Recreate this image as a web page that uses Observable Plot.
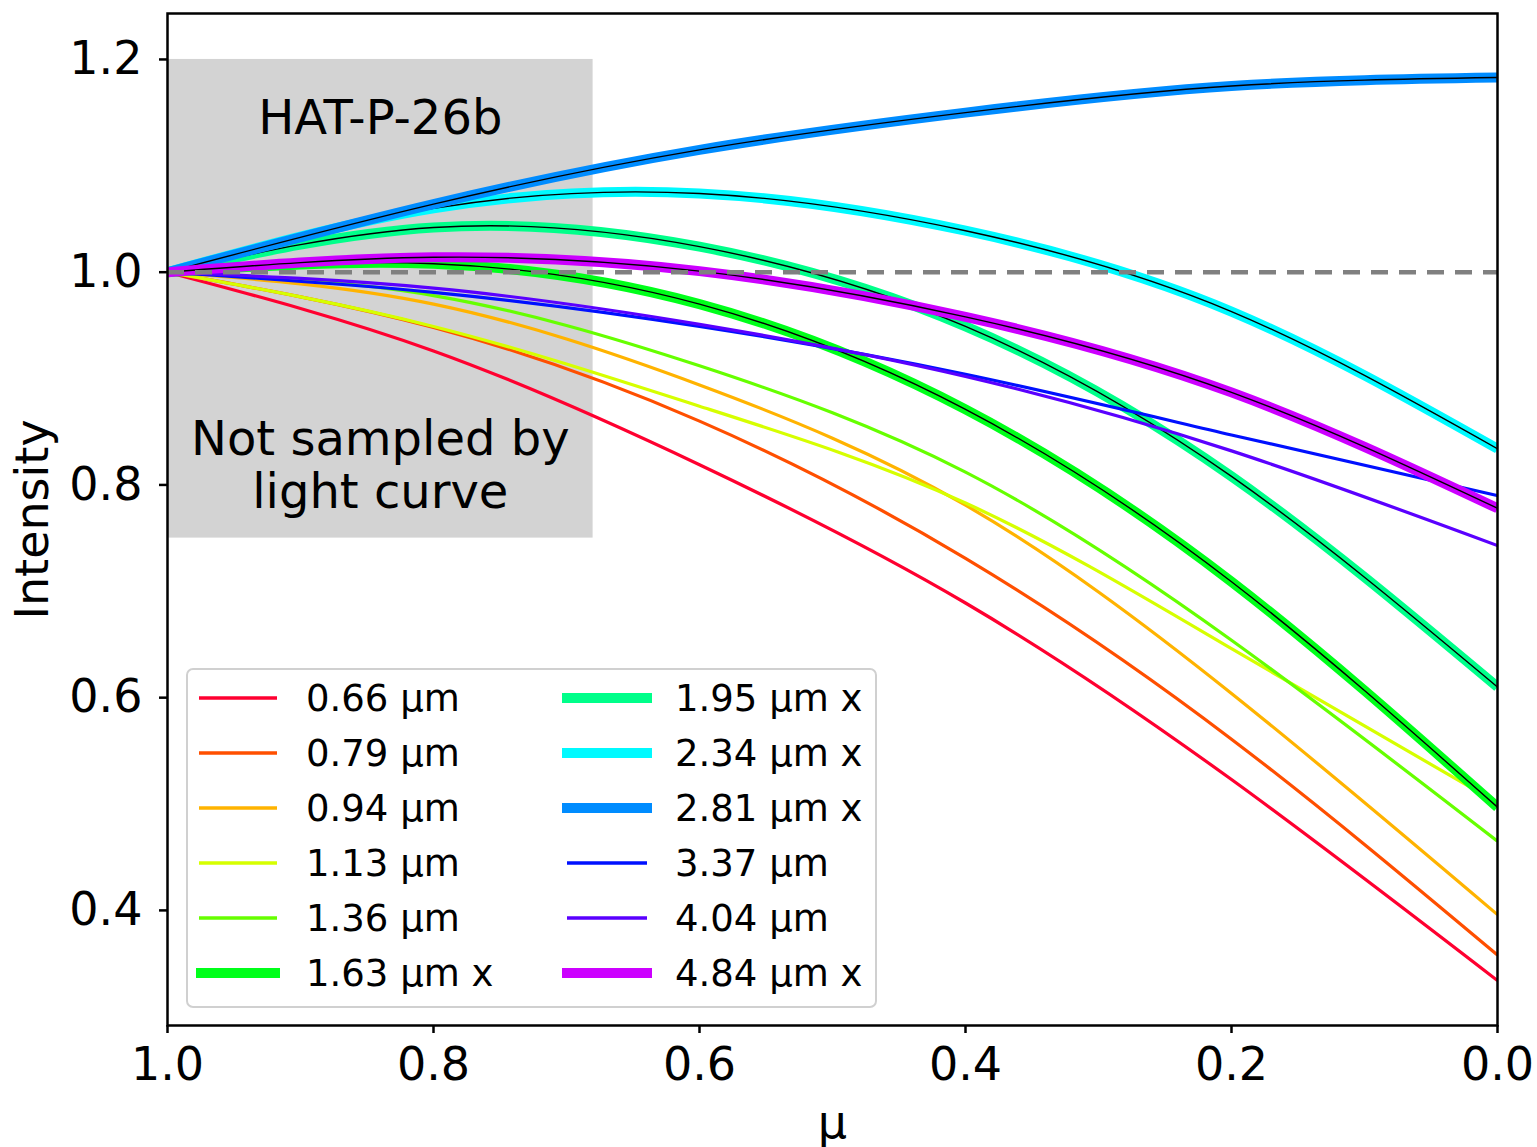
<!DOCTYPE html>
<html>
<head>
<meta charset="utf-8">
<script src="https://cdn.jsdelivr.net/npm/d3@7"></script>
<script src="https://cdn.jsdelivr.net/npm/@observablehq/plot@0.6"></script>
<style>
  html, body { margin: 0; padding: 0; background: #fff; }
  #wrap { position: relative; width: 1537px; height: 1147px; font-family: "DejaVu Sans", sans-serif; }
  #legend { position: absolute; box-sizing: border-box; border: 2px solid #d0d0d0; border-radius: 7px; background: rgba(255,255,255,0.85); }
</style>
</head>
<body>
<div id="wrap"></div>
<script>
// ---- data ----
const mu = [1.0, 0.8, 0.6, 0.4, 0.2, 0.0];

const wavelengths = ["0.66", "0.79", "0.94", "1.13", "1.36", "1.63", "1.95", "2.34", "2.81", "3.37", "4.04", "4.84"];
const fitted      = [false,  false,  false,  false,  false,  true,   true,   true,   true,   false,  false,  true];
const colors      = ["#ff0030", "#ff4f00", "#ffb300", "#d6ff00", "#66ff00", "#00ff1a",
                     "#00ff8a", "#00faff", "#008cff", "#0010ff", "#5a00ff", "#cc00ff"];

const I_066 = [1.0, 0.926, 0.819, 0.689, 0.523, 0.334];
const I_079 = [1.0, 0.948, 0.860, 0.731, 0.561, 0.358];
const I_094 = [1.0, 0.970, 0.894, 0.781, 0.604, 0.396];
const I_113 = [1.0, 0.949, 0.874, 0.783, 0.646, 0.501];
const I_136 = [1.0, 0.978, 0.912, 0.812, 0.654, 0.465];
const I_163 = [1.0, 1.008, 0.970, 0.871, 0.709, 0.497];
const I_195 = [1.0, 1.042, 1.024, 0.949, 0.808, 0.610];
const I_234 = [1.0, 1.060, 1.074, 1.039, 0.963, 0.834];
const I_281 = [1.0, 1.064, 1.115, 1.150, 1.175, 1.183];
const I_337 = [1.0, 0.981, 0.949, 0.904, 0.847, 0.790];
const I_404 = [1.0, 0.985, 0.951, 0.902, 0.832, 0.743];
const I_484 = [1.0, 1.014, 1.001, 0.958, 0.887, 0.778];

const intensities = [I_066, I_079, I_094, I_113, I_136, I_163, I_195, I_234, I_281, I_337, I_404, I_484];

// shaded region and annotations
const boxMu = [1.0, 0.68];
const boxI = [0.75, 1.2];
const titleText = "HAT-P-26b";
const titlePos = [0.84, 1.144];
const noteText = "Not sampled by\nlight curve";
const notePos = [0.84, 0.819];

const xTicks = [1.0, 0.8, 0.6, 0.4, 0.2, 0.0];
const yTicks = [0.4, 0.6, 0.8, 1.0, 1.2];

// ---- build ----
const labels = wavelengths.map((w, k) => `${w} μm${fitted[k] ? " x" : ""}`);
const series = wavelengths.map((w, k) => ({
  key: w, color: colors[k], thick: fitted[k],
  rows: mu.map((m, i) => ({mu: m, I: intensities[k][i]}))
}));

const marks = [
  Plot.rect([{}], {x1: boxMu[0], x2: boxMu[1], y1: boxI[0], y2: boxI[1], fill: "#d3d3d3"}),
  Plot.text([titleText], {x: titlePos[0], y: titlePos[1], text: d => d, fontSize: 48, fill: "black", textAnchor: "middle", lineAnchor: "middle"}),
  Plot.text([noteText], {x: notePos[0], y: notePos[1], text: d => d, fontSize: 48, fill: "black", textAnchor: "middle", lineAnchor: "middle", lineHeight: 1.1})
];

for (const s of series) {
  marks.push(Plot.line(s.rows, {x: "mu", y: "I", stroke: s.color, strokeWidth: s.thick ? 10 : 3.2, curve: "natural", clip: true, strokeLinecap: "butt"}));
  if (s.thick) marks.push(Plot.line(s.rows, {x: "mu", y: "I", stroke: "black", strokeWidth: 1.4, curve: "natural", clip: true, strokeLinecap: "butt"}));
}

marks.push(Plot.ruleY([1.0], {stroke: "#808080", strokeWidth: 4.5, strokeDasharray: "17,11"}));
marks.push(Plot.frame({stroke: "black", strokeWidth: 2.5}));
marks.push(Plot.axisX(xTicks, {tickFormat: d3.format(".1f"), tickSize: 8, tickPadding: 14, strokeWidth: 2.5, fontSize: 46,
  label: "μ", labelAnchor: "center", labelOffset: 112, labelArrow: "none"}));
marks.push(Plot.axisY(yTicks, {tickFormat: d3.format(".1f"), tickSize: 8, tickPadding: 17, strokeWidth: 2.5, fontSize: 46,
  label: "Intensity", labelAnchor: "center", labelOffset: 152, labelArrow: "none"}));

const chart = Plot.plot({
  width: 1537,
  height: 1147,
  marginLeft: 167,
  marginRight: 40,
  marginTop: 13,
  marginBottom: 122,
  x: {domain: [1, 0]},
  y: {domain: [0.2918, 1.2432]},
  style: {fontFamily: "DejaVu Sans", fontSize: "48px", background: "white", color: "black", overflow: "visible"},
  marks
});

const wrap = document.getElementById("wrap");
wrap.appendChild(chart);

// ---- legend (inside the axes, lower left) ----
const legend = document.createElement("div");
legend.id = "legend";
Object.assign(legend.style, {left: "186px", top: "668px", width: "691px", height: "340px"});
const NS = "http://www.w3.org/2000/svg";
const lsvg = document.createElementNS(NS, "svg");
lsvg.setAttribute("width", "687");
lsvg.setAttribute("height", "336");
legend.appendChild(lsvg);
const colX = [[11, 89, 118], [377, 461, 487]];
labels.forEach((lab, k) => {
  const col = k < 6 ? 0 : 1;
  const row = k % 6;
  const cy = 28 + row * 55;
  const [x1, x2, tx] = colX[col];
  const ln = document.createElementNS(NS, "line");
  const pad = fitted[k] ? 3 : 0;
  ln.setAttribute("x1", x1 - pad + (col === 1 && !fitted[k] ? 2 : 0));
  ln.setAttribute("x2", x2 + pad - (col === 1 && !fitted[k] ? 2 : 0));
  ln.setAttribute("y1", cy);
  ln.setAttribute("y2", cy);
  ln.setAttribute("stroke", colors[k]);
  ln.setAttribute("stroke-width", fitted[k] ? 10 : 3.3);
  lsvg.appendChild(ln);
  const t = document.createElementNS(NS, "text");
  t.setAttribute("x", tx);
  t.setAttribute("y", cy);
  t.setAttribute("dy", "0.36em");
  t.setAttribute("font-size", "37");
  t.setAttribute("font-family", "DejaVu Sans");
  t.textContent = lab;
  lsvg.appendChild(t);
});
wrap.appendChild(legend);
</script>
</body>
</html>
